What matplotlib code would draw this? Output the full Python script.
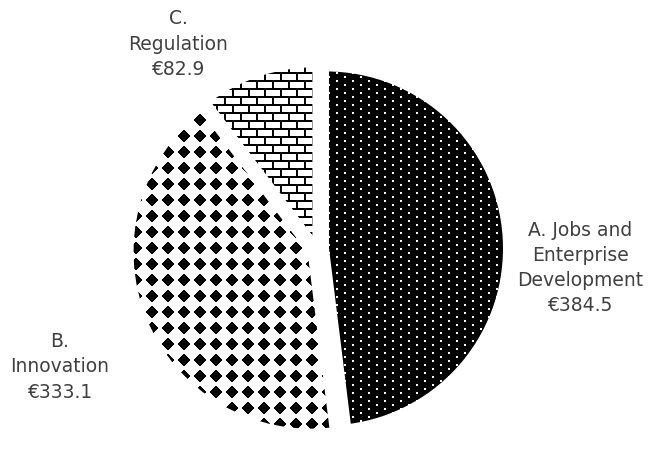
import numpy as np
import matplotlib
matplotlib.use("Agg")
import matplotlib.pyplot as plt

# Budget allocation (€ million)
categories = ["A. Jobs and\nEnterprise\nDevelopment", "B.\nInnovation", "C.\nRegulation"]
values = [384.5, 333.1, 82.9]

W, H, DPI = 651, 449, 100
fig = plt.figure(figsize=(W / DPI, H / DPI), dpi=DPI)
ax = fig.add_axes([0, 0, 1, 1])

# pie geometry in pixels (y measured from the top edge)
cx, cy = 317.0, 249.0
rad = 180.0
border_px = 6.0
explode_px = [9.0, 7.0, 5.0]

wedges, _ = ax.pie(
    values,
    startangle=90,
    counterclock=False,
    radius=1.0,
    explode=[e / rad for e in explode_px],
    wedgeprops=dict(facecolor="none", edgecolor="white",
                    linewidth=border_px * 72 / DPI, zorder=3),
)

x0, x1 = -cx / rad, (W - cx) / rad
y0, y1 = -(H - cy) / rad, cy / rad

# bitmap fill patterns, one pixel per output pixel
rows, cols = np.mgrid[0:H, 0:W]

def rgb(mask, fg, bg):
    img = np.empty((H, W, 3))
    img[:] = bg
    img[mask] = fg
    return img

# white dots on black
dots = (((rows % 8) < 2) & ((cols % 16) < 2)) | \
       ((((rows - 4) % 8) < 2) & (((cols - 8) % 16) < 2))
pat_a = rgb(dots, (1, 1, 1), (0, 0, 0))

# black diamonds on white
dr = np.abs((rows % 16) - 7.5)
dc = np.abs((cols % 16) - 7.5)
diam = (dr + dc) <= 6.5
pat_b = rgb(diam, (0, 0, 0), (1, 1, 1))

# brick wall
rm = rows % 16
cm = cols % 16
brick = ((rows % 8) < 2) | \
        ((rm >= 2) & (rm < 8) & (cm < 2)) | \
        ((rm >= 10) & (cm >= 8) & (cm < 10))
pat_c = rgb(brick, (0, 0, 0), (1, 1, 1))

for wedge, pat in zip(wedges, [pat_a, pat_b, pat_c]):
    im = ax.imshow(pat, extent=(x0, x1, y0, y1), origin="upper",
                   interpolation="nearest", aspect="auto", zorder=1)
    im.set_clip_path(wedge)

# slice labels
label_px = [(580, 268), (60, 367), (178, 44)]
for cat, val, (px, py) in zip(categories, values, label_px):
    ax.text((px - cx) / rad, (cy - py) / rad, f"{cat}\n€{val:.1f}",
            ha="center", va="center", multialignment="center",
            fontsize=13.5, color="#404040", linespacing=1.42,
            family="DejaVu Sans", zorder=4)

ax.set_xlim(x0, x1)
ax.set_ylim(y0, y1)
ax.set_aspect("auto")
ax.axis("off")

fig.savefig("out.png", dpi=DPI)
